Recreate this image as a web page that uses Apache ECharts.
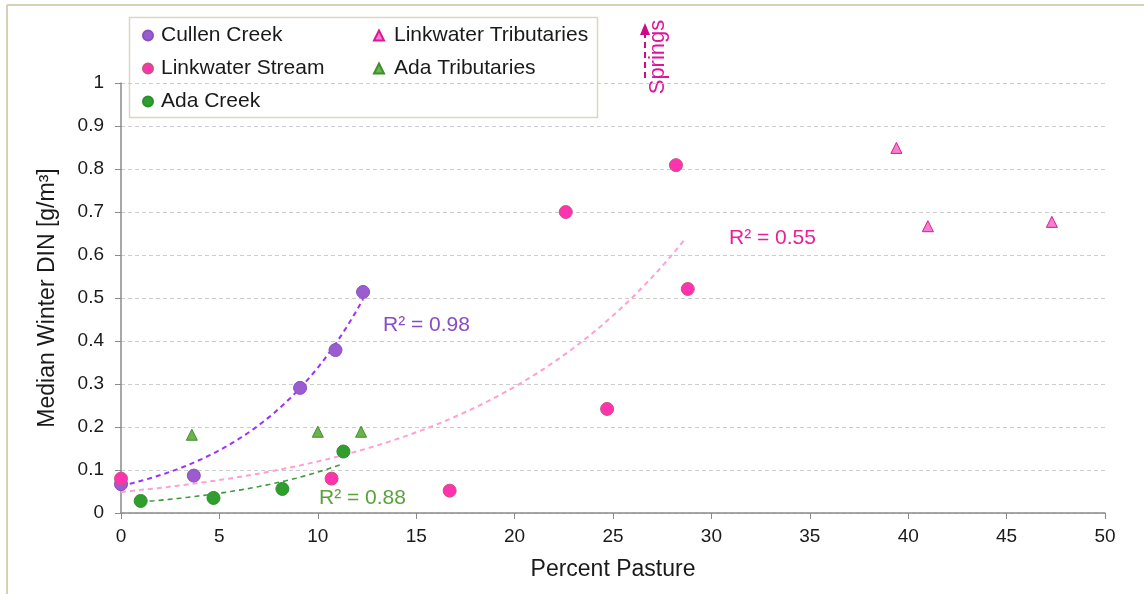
<!DOCTYPE html>
<html>
<head>
<meta charset="utf-8">
<script src="https://cdn.jsdelivr.net/npm/echarts@6/dist/echarts.min.js"></script>
<style>
  html, body { margin: 0; padding: 0; background: #fff; }
  #chart { width: 1144px; height: 594px; }
</style>
</head>
<body>
<div id="chart"></div>
<script>
// Percent pasture (x) vs median winter DIN in g/m3 (y)
const cullenCreek = [[0, 0.067], [3.7, 0.087], [9.1, 0.291], [10.9, 0.379], [12.3, 0.514]];
const linkwaterStream = [[0, 0.080], [10.7, 0.080], [16.7, 0.052], [22.6, 0.700], [24.7, 0.242], [28.2, 0.809], [28.8, 0.521]];
const adaCreek = [[1.0, 0.028], [4.7, 0.035], [8.2, 0.056], [11.3, 0.143]];
const linkwaterTributaries = [[39.4, 0.849], [41.0, 0.667], [47.3, 0.677]];
const adaTributaries = [[3.6, 0.182], [10.0, 0.189], [12.2, 0.189]];

// Exponential trend lines y = a * exp(b * x) over [xFrom, xTo]
const cullenTrend = { a: 0.063, b: 0.168, xFrom: 0, xTo: 12.3, r2: '0.98' };
const linkwaterTrend = { a: 0.049, b: 0.0895, xFrom: 0, xTo: 28.7, r2: '0.55' };
const adaTrend = { a: 0.0223, b: 0.145, xFrom: 1.0, xTo: 11.3, r2: '0.88' };

const xTicks = { min: 0, max: 50, interval: 5 };
const yTicks = { min: 0, max: 1, interval: 0.1 };

function trendPoints(t) {
  const pts = [];
  const n = 60;
  for (let i = 0; i <= n; i++) {
    const x = t.xFrom + (t.xTo - t.xFrom) * i / n;
    pts.push([x, t.a * Math.exp(t.b * x)]);
  }
  return pts;
}

const FONT = '"Liberation Sans", Arial, sans-serif';
const NARROW = '"Liberation Sans Narrow", "Liberation Sans", sans-serif';
const chart = echarts.init(document.getElementById('chart'));

function trendSeries(name, t, color, width) {
  return {
    name: name, type: 'line', data: trendPoints(t), showSymbol: false, symbol: 'none',
    smooth: false, silent: true, z: 1,
    lineStyle: { color: color, width: width, type: [5, 4] }
  };
}

function dot(name, data, fill, border, symbol, size) {
  return {
    name: name, type: 'scatter', data: data, symbol: symbol, symbolSize: size, z: 3,
    itemStyle: { color: fill, borderColor: border, borderWidth: 1, opacity: 1 }
  };
}

const legendText = { fontFamily: FONT, fontSize: 21, color: '#1a1a1a', padding: [0, 0, 0, 3] };

chart.setOption({
  animation: false,
  backgroundColor: '#ffffff',
  grid: { left: 121, right: 39, top: 83, bottom: 81, containLabel: false },
  xAxis: {
    type: 'value', min: xTicks.min, max: xTicks.max, interval: xTicks.interval,
    name: 'Percent Pasture', nameLocation: 'middle', nameGap: 45,
    nameTextStyle: { fontFamily: FONT, fontSize: 23, color: '#1a1a1a' },
    axisLine: { lineStyle: { color: '#8a8a8a', width: 1.5 } },
    axisTick: { show: true, length: 6, lineStyle: { color: '#8a8a8a' } },
    axisLabel: { margin: 14, fontFamily: NARROW, fontSize: 19, color: '#1a1a1a' },
    splitLine: { show: false }
  },
  yAxis: {
    type: 'value', min: yTicks.min, max: yTicks.max, interval: yTicks.interval,
    name: 'Median Winter DIN [g/m³]', nameLocation: 'middle', nameGap: 62,
    nameTextStyle: { fontFamily: FONT, fontSize: 23, color: '#1a1a1a' },
    axisLine: { show: true, lineStyle: { color: '#8a8a8a', width: 1.5 } },
    axisTick: { show: true, length: 6, lineStyle: { color: '#8a8a8a' } },
    axisLabel: {
      margin: 17, fontFamily: FONT, fontSize: 19, color: '#1a1a1a',
      formatter: v => (Math.round(v * 10) / 10).toString()
    },
    splitLine: { show: true, lineStyle: { color: '#cccccc', type: [4, 3], width: 1 } }
  },
  legend: [
    {
      data: ['Cullen Creek', 'Linkwater Stream', 'Ada Creek'],
      orient: 'vertical', left: 137, top: 20, itemGap: 12,
      itemWidth: 10, itemHeight: 10, textStyle: legendText, selectedMode: false
    },
    {
      data: ['Linkwater Tributaries', 'Ada Tributaries'],
      orient: 'vertical', left: 368, top: 20, itemGap: 12,
      itemWidth: 10, itemHeight: 10,
      textStyle: Object.assign({}, legendText, { padding: [0, 0, 0, 5] }), selectedMode: false
    }
  ],
  graphic: [
    // outer frame (left and top edges)
    { type: 'line', shape: { x1: 7, y1: 5, x2: 1144, y2: 5 }, style: { stroke: '#d8cfb4', lineWidth: 2 }, silent: true },
    { type: 'line', shape: { x1: 7, y1: 5, x2: 7, y2: 594 }, style: { stroke: '#d8cfb4', lineWidth: 2 }, silent: true },
    // legend box
    { type: 'rect', shape: { x: 129.5, y: 17.5, width: 468, height: 100 }, style: { fill: '#ffffff', stroke: '#dcd5c0', lineWidth: 1.5 }, z: -1, silent: true },
    // R² labels
    { type: 'text', left: 383, top: 315, style: { text: 'R² = ' + cullenTrend.r2, fill: '#8a4cc4', font: '21px ' + FONT }, silent: true },
    { type: 'text', left: 729, top: 228, style: { text: 'R² = ' + linkwaterTrend.r2, fill: '#e8209a', font: '21px ' + FONT }, silent: true },
    { type: 'text', left: 319, top: 488, style: { text: 'R² = ' + adaTrend.r2, fill: '#5aa23c', font: '21px ' + FONT }, silent: true },
    // Springs annotation: dashed arrow and rotated label
    { type: 'line', shape: { x1: 645, y1: 78, x2: 645, y2: 34 }, style: { stroke: '#cc0a8a', lineWidth: 2, lineDash: [6, 4] }, silent: true },
    { type: 'polygon', shape: { points: [[645, 23], [640, 35], [650, 35]] }, style: { fill: '#cc0a8a' }, silent: true },
    { type: 'text', x: 658, y: 57, rotation: Math.PI / 2,
      style: { text: 'Springs', fill: '#e0139c', font: '22px ' + FONT, align: 'center', verticalAlign: 'middle' }, silent: true }
  ],
  series: [
    trendSeries('Cullen trend', cullenTrend, '#9b30ff', 2),
    trendSeries('Linkwater trend', linkwaterTrend, '#ff9fd2', 2),
    trendSeries('Ada trend', adaTrend, '#3a9a3a', 1.6),
    dot('Cullen Creek', cullenCreek, '#9a5ccf', '#8a4fc0', 'circle', 13),
    dot('Linkwater Stream', linkwaterStream, '#ff33b0', '#c8557a', 'circle', 13),
    dot('Ada Creek', adaCreek, '#2f9e2f', '#2b8f2b', 'circle', 13),
    dot('Linkwater Tributaries', linkwaterTributaries, '#f47fcf', '#e0169a', 'triangle', 11),
    dot('Ada Tributaries', adaTributaries, '#6bb34a', '#3f8f2f', 'triangle', 11)
  ]
});
</script>
</body>
</html>
